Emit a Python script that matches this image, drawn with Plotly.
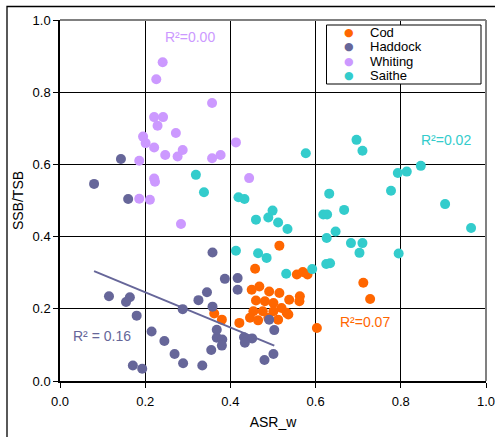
import numpy as np
import plotly.graph_objects as go

# ---- data ----
cod_x = [0.515, 0.458, 0.556, 0.570, 0.581, 0.450, 0.468, 0.491, 0.515, 0.538,
         0.563, 0.562, 0.460, 0.481, 0.501, 0.520, 0.454, 0.476, 0.501, 0.532,
         0.446, 0.465, 0.489, 0.512, 0.536, 0.421, 0.380, 0.603, 0.362, 0.712, 0.728]
cod_y = [0.375, 0.311, 0.295, 0.302, 0.295, 0.253, 0.262, 0.248, 0.244, 0.225,
         0.235, 0.221, 0.223, 0.221, 0.216, 0.202, 0.193, 0.193, 0.193, 0.189,
         0.175, 0.168, 0.175, 0.170, 0.184, 0.161, 0.170, 0.147, 0.187, 0.272, 0.227]

haddock_x = [0.143, 0.080, 0.160, 0.358, 0.387, 0.417, 0.417, 0.325, 0.345, 0.358,
             0.288, 0.115, 0.164, 0.155, 0.180, 0.215, 0.245, 0.269, 0.289, 0.334,
             0.171, 0.193, 0.355, 0.368, 0.381, 0.380, 0.368, 0.432, 0.451, 0.434,
             0.491, 0.503, 0.501, 0.480]
haddock_y = [0.615, 0.546, 0.504, 0.356, 0.283, 0.285, 0.253, 0.224, 0.246, 0.206,
             0.199, 0.235, 0.232, 0.219, 0.181, 0.137, 0.111, 0.075, 0.049, 0.043,
             0.043, 0.034, 0.086, 0.120, 0.115, 0.098, 0.142, 0.121, 0.118, 0.106,
             0.170, 0.141, 0.075, 0.058]

whiting_x = [0.241, 0.226, 0.357, 0.221, 0.242, 0.229, 0.272, 0.195, 0.201, 0.221,
             0.413, 0.247, 0.276, 0.288, 0.357, 0.377, 0.186, 0.221, 0.223, 0.186,
             0.211, 0.284, 0.444]
whiting_y = [0.883, 0.836, 0.770, 0.731, 0.731, 0.707, 0.687, 0.677, 0.659, 0.647,
             0.661, 0.626, 0.622, 0.640, 0.617, 0.626, 0.610, 0.561, 0.552, 0.505,
             0.502, 0.435, 0.562]

saithe_x = [0.319, 0.338, 0.419, 0.433, 0.413, 0.577, 0.696, 0.710, 0.793, 0.814,
            0.847, 0.777, 0.904, 0.965, 0.460, 0.499, 0.489, 0.512, 0.534, 0.632,
            0.667, 0.618, 0.627, 0.647, 0.626, 0.683, 0.710, 0.703, 0.795, 0.465,
            0.485, 0.531, 0.592, 0.625, 0.634]
saithe_y = [0.571, 0.523, 0.509, 0.504, 0.361, 0.631, 0.668, 0.638, 0.576, 0.580,
            0.596, 0.527, 0.490, 0.424, 0.447, 0.472, 0.453, 0.439, 0.421, 0.519,
            0.474, 0.461, 0.461, 0.414, 0.396, 0.382, 0.382, 0.355, 0.353, 0.354,
            0.341, 0.297, 0.310, 0.324, 0.326]

series_names = ["Cod", "Haddock", "Whiting", "Saithe"]
series_colors = ["#FF6600", "#666699", "#CC99FF", "#33CCCC"]
r2_texts = ["R²=0.07", "R² = 0.16", "R²=0.00", "R²=0.02"]
r2_pos_x = [0.716, 0.099, 0.305, 0.905]
r2_pos_y = [0.163, 0.126, 0.953, 0.668]

x_ticks = [0.0, 0.2, 0.4, 0.6, 0.8, 1.0]
y_ticks = [0.0, 0.2, 0.4, 0.6, 0.8, 1.0]

FONT = "Arial, 'Liberation Sans', sans-serif"

fig = go.Figure()
all_x = [cod_x, haddock_x, whiting_x, saithe_x]
all_y = [cod_y, haddock_y, whiting_y, saithe_y]
for name, col, xs, ys in zip(series_names, series_colors, all_x, all_y):
    fig.add_trace(go.Scatter(x=xs, y=ys, mode="markers", name=name,
                             marker=dict(color=col, size=10, line=dict(width=0)),
                             showlegend=False))

# Linear trend for Haddock, computed from the data
hx = np.array(haddock_x)
hy = np.array(haddock_y)
slope, intercept = np.polyfit(hx, hy, 1)
lx = np.array([hx.min(), hx.max()])
fig.add_trace(go.Scatter(x=lx, y=slope * lx + intercept, mode="lines",
                         name="Linear (Haddock)", line=dict(color="#666699", width=2),
                         showlegend=False))

# R² labels
for txt, col, px, py in zip(r2_texts, series_colors, r2_pos_x, r2_pos_y):
    fig.add_annotation(x=px, y=py, xref="x", yref="y", text=txt, showarrow=False,
                       font=dict(family=FONT, size=14, color=col))

W, H = 495, 437
ML, MR, MT, MB = 60, 9, 20, 56
pw, ph = W - ML - MR, H - MT - MB

def pxx(p):
    return (p - ML) / pw

def pxy(p):
    return (H - MB - p) / ph

shapes = []
# outer chart frame (top + left visible)
shapes.append(dict(type="rect", xref="paper", yref="paper",
                   x0=pxx(7), x1=pxx(520), y0=pxy(460), y1=pxy(6.5),
                   line=dict(color="black", width=1.3), fillcolor="rgba(0,0,0,0)"))
# plot area top and right borders (gray)
shapes.append(dict(type="line", xref="paper", yref="paper", x0=0, x1=1, y0=1, y1=1,
                   line=dict(color="#808080", width=2)))
shapes.append(dict(type="line", xref="paper", yref="paper", x0=1, x1=1, y0=0, y1=1,
                   line=dict(color="#808080", width=2)))
# legend box
shapes.append(dict(type="rect", xref="paper", yref="paper",
                   x0=pxx(326.5), x1=pxx(481), y0=pxy(84), y1=pxy(25),
                   line=dict(color="black", width=1), fillcolor="white"))
fig.update_layout(shapes=shapes)

legend_rows_y = [32, 47, 61, 75]
for name, col, ry in zip(series_names, series_colors, legend_rows_y):
    fig.add_annotation(x=pxx(349), y=pxy(ry), xref="paper", yref="paper",
                       text="●", showarrow=False, xanchor="center", yanchor="middle",
                       borderpad=0,
                       font=dict(family="DejaVu Sans", size=11, color=col))
    fig.add_annotation(x=pxx(369), y=pxy(ry), xref="paper", yref="paper",
                       text=name, showarrow=False, xanchor="left", yanchor="middle",
                       borderpad=0,
                       font=dict(family=FONT, size=13, color="black"))

fig.update_xaxes(range=[0, 1], tickvals=x_ticks, tickformat=".1f", automargin=False,
                 ticklabeloverflow="allow", ticklabelstandoff=3,
                 showgrid=True, gridcolor="black", gridwidth=1,
                 showline=True, linecolor="black", linewidth=1.5,
                 ticks="outside", ticklen=5, tickcolor="black", zeroline=False,
                 tickfont=dict(family=FONT, size=13, color="black"),
                 title=dict(text="ASR_w", font=dict(family=FONT, size=14, color="black"),
                            standoff=9))
fig.update_yaxes(range=[0, 1], tickvals=y_ticks, tickformat=".1f", automargin=False,
                 ticklabeloverflow="allow",
                 showgrid=True, gridcolor="black", gridwidth=1,
                 showline=True, linecolor="black", linewidth=1.5,
                 ticks="outside", ticklen=5, tickcolor="black", zeroline=False,
                 tickfont=dict(family=FONT, size=13, color="black"),
                 title=dict(text="SSB/TSB", font=dict(family=FONT, size=14, color="black"),
                            standoff=6))

fig.update_layout(width=W, height=H, margin=dict(l=ML, r=MR, t=MT, b=MB),
                  paper_bgcolor="white", plot_bgcolor="white", showlegend=False,
                  font=dict(family=FONT))

fig.write_html("out.html", config={"displayModeBar": False},
               post_script="document.body.style.margin='0';document.body.style.overflow='hidden';")
